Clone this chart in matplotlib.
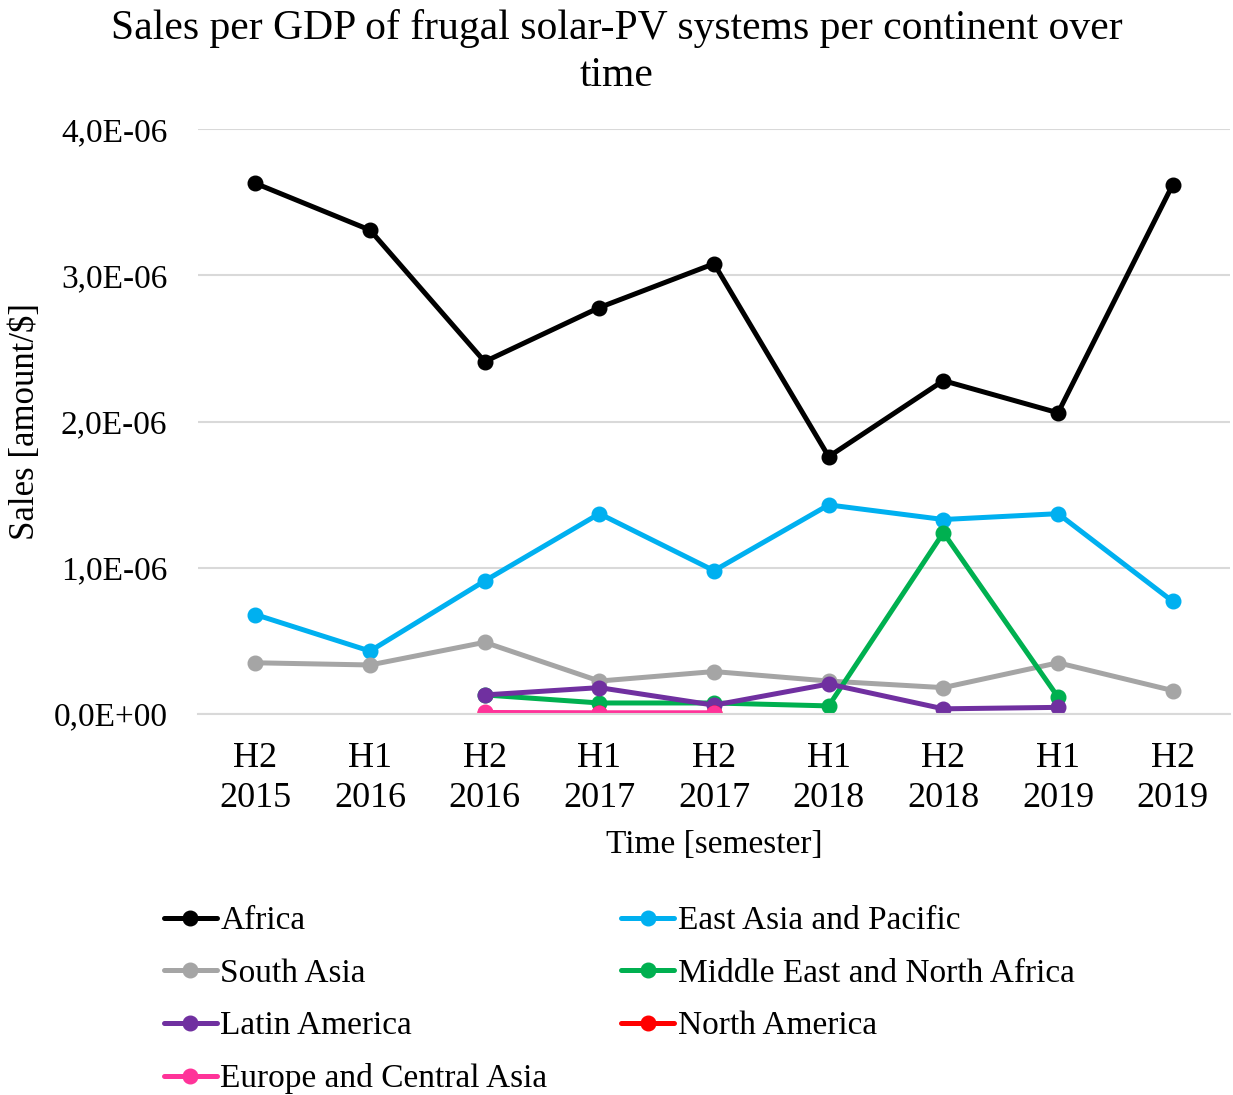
import numpy as np
import matplotlib.pyplot as plt
from matplotlib.ticker import FuncFormatter

plt.rcParams['font.family'] = ['Liberation Serif', 'DejaVu Serif']

semesters = ['H2\n2015', 'H1\n2016', 'H2\n2016', 'H1\n2017', 'H2\n2017',
             'H1\n2018', 'H2\n2018', 'H1\n2019', 'H2\n2019']
nan = np.nan

# sales per GDP, in units of 1e-6
africa = [3.63, 3.31, 2.41, 2.78, 3.08, 1.76, 2.28, 2.06, 3.62]
east_asia = [0.68, 0.43, 0.91, 1.37, 0.98, 1.43, 1.33, 1.37, 0.77]
south_asia = [0.35, 0.335, 0.49, 0.225, 0.29, 0.225, 0.18, 0.35, 0.16]
middle_east = [nan, nan, 0.13, 0.075, 0.075, 0.055, 1.24, 0.115, nan]
latin_america = [nan, nan, 0.13, 0.18, 0.06, 0.205, 0.035, 0.045, nan]
north_america = [nan, nan, 0.005, 0.005, 0.005, nan, nan, nan, nan]
europe = [nan, nan, 0.01, 0.008, 0.008, nan, nan, nan, nan]

series = [
    ('Africa', africa, '#000000'),
    ('East Asia and Pacific', east_asia, '#00B0F0'),
    ('South Asia', south_asia, '#A5A5A5'),
    ('Middle East and North Africa', middle_east, '#00B050'),
    ('Latin America', latin_america, '#7030A0'),
    ('North America', north_america, '#FF0000'),
    ('Europe and Central Asia', europe, '#FF3399'),
]

fig = plt.figure(figsize=(12.33, 10.95), dpi=100)
ax = fig.add_axes([0.1606, 0.348, 0.837, 0.534])

x = np.arange(len(semesters))
handles = {}
for name, vals, color in series:
    y = np.array(vals) * 1e-6
    h, = ax.plot(x, y, color=color, lw=3.6, marker='o', markersize=10.5,
                 label=name, solid_capstyle='round')
    handles[name] = h

ax.set_xlim(-0.5, len(semesters) - 0.5)
ax.set_ylim(0, 4e-6)
ax.set_yticks(np.arange(0, 4.01e-6, 1e-6))
ax.yaxis.set_major_formatter(FuncFormatter(lambda v, p: f'{v:.1E}'.replace('.', ',')))
ax.set_xticks(x)
ax.set_xticklabels(semesters, fontsize=26, linespacing=1.3)
ax.tick_params(axis='y', labelsize=24, length=0, pad=22)
ax.tick_params(axis='x', length=0, pad=20)

ax.grid(axis='y', color='#D9D9D9', lw=1.5)
ax.set_axisbelow(True)
for s in ['top', 'right', 'left']:
    ax.spines[s].set_visible(False)
ax.spines['bottom'].set_color('#D9D9D9')
ax.spines['bottom'].set_linewidth(1.5)

ax.set_xlabel('Time [semester]', fontsize=24, labelpad=10)
ax.set_ylabel('Sales [amount/$]', fontsize=25, labelpad=8)
fig.suptitle('Sales per GDP of frugal solar-PV systems per continent over\ntime',
             fontsize=30, y=0.992, linespacing=1.3)

# legend filled row by row: reorder for column-major layout
order = ['Africa', 'South Asia', 'Latin America', 'Europe and Central Asia',
         'East Asia and Pacific', 'Middle East and North Africa', 'North America']
fig.legend([handles[n] for n in order], order, ncol=2, loc='upper left',
           bbox_to_anchor=(0.122, 0.185), frameon=False, fontsize=24,
           handlelength=1.6, handletextpad=0.1, columnspacing=2.2,
           labelspacing=0.66, borderaxespad=0)

fig.savefig('out.png', dpi=100)
